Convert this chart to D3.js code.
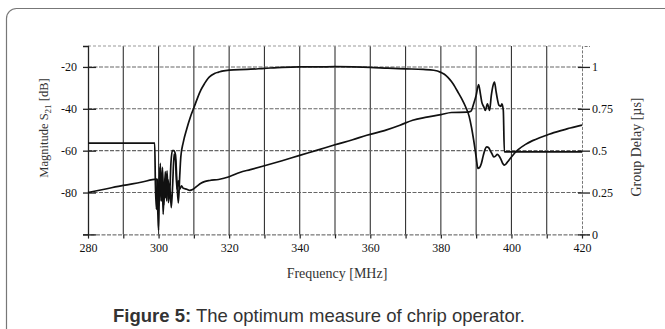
<!DOCTYPE html>
<html>
<head>
<meta charset="utf-8">
<script src="https://cdn.jsdelivr.net/npm/d3@7/dist/d3.min.js"></script>
<style>
  html, body { margin: 0; padding: 0; background: #fff; }
  svg { display: block; }
  .tick text { font-family: "Liberation Serif", "DejaVu Serif", serif; font-size: 12px; fill: #111; }
  .axis-title { font-family: "Liberation Serif", "DejaVu Serif", serif; fill: #333; }
  .caption { font-family: "Liberation Sans", Arial, sans-serif; font-size: 18.5px; fill: #333; }
</style>
</head>
<body>
<div id="chart"></div>
<script>
// Frequency axis (MHz)
const freqTicks = [280, 290, 300, 310, 320, 330, 340, 350, 360, 370, 380, 390, 400, 410, 420];
const magTicks = [-100, -80, -60, -40, -20];
const delayTicks = [0, 0.25, 0.5, 0.75, 1];

// Magnitude S21 [dB]
const magFreq = [280, 285, 290, 295, 299.5, 299.8, 300.0, 300.2, 300.5, 300.8, 301.1, 301.5, 301.9, 302.3, 302.7, 303.1, 303.5, 303.9, 304.3, 304.8, 305.2, 305.6, 306.0, 306.3, 307, 308, 309, 310, 311, 312, 313, 314, 315, 316, 317, 318, 320, 325, 330, 335, 340, 345, 350, 355, 360, 365, 370, 375, 378, 380, 381, 382, 383, 384, 385, 386, 387, 388, 388.7, 389.3, 390, 390.5, 391, 391.5, 392, 392.5, 393, 393.5, 394, 394.5, 395, 395.5, 396, 396.5, 397, 397.5, 398, 398.5, 399, 400, 401, 402, 404, 406, 408, 410, 412, 414, 416, 418, 420];
const magDb = [-80, -78.3, -76.6, -75.1, -73.6, -90, -98, -80, -66, -84, -68, -86, -70, -84, -74, -82, -66, -60, -60, -62, -75, -85, -72, -63, -56, -49.5, -44, -39.5, -35, -31, -28, -25.5, -24, -23, -22.5, -22, -21.5, -21.2, -20.7, -20.2, -20, -20, -19.9, -20, -20.2, -20.6, -20.9, -21.2, -21.6, -22.6, -23.5, -25, -27, -29.5, -32.5, -35.5, -39, -43.5, -49, -55, -63, -68.5, -68, -66, -62.5, -59.5, -58.2, -58.5, -60, -61.5, -63, -62.6, -61.8, -62.5, -64, -66, -66.9, -66.3, -65.2, -63, -61, -59.4, -57, -55.2, -53.8, -52.6, -51.4, -50.4, -49.5, -48.6, -47.8];

// Group delay [µs]
const delayFreq = [280, 298.9, 299.1, 299.4, 299.7, 300.1, 300.4, 300.7, 301.0, 301.3, 301.7, 302.0, 302.4, 302.8, 303.2, 303.6, 304.0, 304.4, 304.8, 305.2, 305.6, 306.0, 306.5, 307, 308, 308.8, 309.8, 311, 312, 313, 314.5, 317, 320, 323, 326, 330, 335, 340, 345, 350, 355, 359, 364, 368.4, 372, 376, 380, 383, 387.5, 388.5, 389.3, 390, 390.7, 391.2, 391.6, 392.2, 392.6, 393.2, 393.8, 394.3, 394.8, 395.2, 395.6, 396.0, 396.5, 397.0, 397.3, 397.7, 398.0, 420];
const delayUs = [0.545, 0.545, 0.30, 0.15, 0.33, 0.17, 0.40, 0.20, 0.36, 0.12, 0.33, 0.22, 0.38, 0.19, 0.28, 0.16, 0.30, 0.48, 0.44, 0.27, 0.32, 0.27, 0.29, 0.275, 0.27, 0.263, 0.27, 0.29, 0.305, 0.315, 0.322, 0.328, 0.344, 0.37, 0.387, 0.41, 0.44, 0.472, 0.503, 0.535, 0.565, 0.592, 0.62, 0.652, 0.682, 0.70, 0.715, 0.728, 0.73, 0.735, 0.78, 0.83, 0.895, 0.84, 0.79, 0.76, 0.74, 0.78, 0.74, 0.83, 0.89, 0.91, 0.86, 0.81, 0.77, 0.765, 0.78, 0.74, 0.493, 0.493];

const W = 665, H = 329;
const margin = { top: 46, left: 88 };
const width = 494, height = 188.4;

const svg = d3.select('#chart').append('svg').attr('width', W).attr('height', H);

// page panel with rounded corner
svg.append('rect')
  .attr('x', 6.5).attr('y', 8.5).attr('width', 700).attr('height', 360)
  .attr('rx', 10).attr('fill', 'none').attr('stroke', '#777').attr('stroke-width', 1.2);

const g = svg.append('g').attr('transform', `translate(${margin.left},${margin.top})`);

const x = d3.scaleLinear().domain([280, 420]).range([0, width]);
const yMag = d3.scaleLinear().domain([-100, -10]).range([height, 0]);
const yDelay = d3.scaleLinear().domain([0, 1.125]).range([height, 0]);

// grid
g.append('g').selectAll('line')
  .data(freqTicks.slice(1, -1))
  .join('line')
  .attr('x1', d => x(d)).attr('x2', d => x(d))
  .attr('y1', 0).attr('y2', height)
  .attr('stroke', '#333').attr('stroke-width', 1.1);

g.append('g').selectAll('line')
  .data(magTicks.slice(1))
  .join('line')
  .attr('x1', 0).attr('x2', width)
  .attr('y1', d => yMag(d)).attr('y2', d => yMag(d))
  .attr('stroke', '#666').attr('stroke-width', 1.1).attr('stroke-dasharray', '4,1.5');

// top frame
g.append('line').attr('x1', 0).attr('x2', width).attr('y1', 0).attr('y2', 0)
  .attr('stroke', '#999').attr('stroke-dasharray', '3,2');

// axes
const fmt = d => (d < 0 ? '-' + Math.abs(d) : String(d));

g.append('g')
  .attr('transform', `translate(0,${height})`)
  .call(d3.axisBottom(x).tickValues(freqTicks).tickSize(4).tickPadding(5)
    .tickFormat(d => (d % 20 === 0 ? d : '')))
  .call(a => a.select('.domain').attr('stroke', '#555').attr('stroke-dasharray', '4,1.5'))
  .call(a => a.selectAll('.tick line').attr('stroke', '#222').attr('stroke-width', 1.2));

g.append('g')
  .call(d3.axisLeft(yMag).tickValues(magTicks).tickSize(5).tickPadding(6)
    .tickFormat(d => (d === -100 ? '' : fmt(d))))
  .call(a => a.select('.domain').attr('stroke', '#222').attr('stroke-width', 1.3))
  .call(a => a.selectAll('.tick line').attr('x1', 8).attr('stroke', '#222').attr('stroke-width', 1.3));

g.append('g')
  .attr('transform', `translate(${width},0)`)
  .call(d3.axisRight(yDelay).tickValues(delayTicks).tickSize(8).tickPadding(2)
    .tickFormat(d => String(d)))
  .call(a => a.select('.domain').attr('stroke', '#777').attr('stroke-dasharray', '3,1.5'))
  .call(a => a.selectAll('.tick line').attr('x1', -4).attr('stroke', '#222').attr('stroke-width', 1.3));

// curves
const magLine = d3.line()
  .x((d, i) => x(magFreq[i]))
  .y(d => yMag(d))
  .curve(d3.curveMonotoneX);

const delayLine = d3.line()
  .x((d, i) => x(delayFreq[i]))
  .y(d => yDelay(d))
  .curve(d3.curveMonotoneX);

g.append('path').datum(delayUs)
  .attr('d', delayLine)
  .attr('fill', 'none').attr('stroke', '#111').attr('stroke-width', 1.7);

g.append('path').datum(magDb)
  .attr('d', magLine)
  .attr('fill', 'none').attr('stroke', '#111').attr('stroke-width', 1.7);

// axis titles
const leftTitle = svg.append('text')
  .attr('class', 'axis-title')
  .attr('transform', `translate(48,128) rotate(-90)`)
  .attr('text-anchor', 'middle')
  .style('font-size', '12.5px');
leftTitle.append('tspan').text('Magnitude S');
leftTitle.append('tspan').attr('dy', 3).style('font-size', '9px').text('21');
leftTitle.append('tspan').attr('dy', -3).text(' [dB]');

svg.append('text')
  .attr('class', 'axis-title')
  .attr('transform', `translate(641,147) rotate(-90)`)
  .attr('text-anchor', 'middle')
  .style('font-size', '14px')
  .text('Group Delay [µs]');

svg.append('text')
  .attr('class', 'axis-title')
  .attr('x', 337).attr('y', 278)
  .attr('text-anchor', 'middle')
  .style('font-size', '14px')
  .text('Frequency [MHz]');

// caption
const cap = svg.append('text').attr('class', 'caption').attr('x', 113).attr('y', 321.5);
cap.append('tspan').attr('font-weight', 'bold').text('Figure 5:');
cap.append('tspan').text(' The optimum measure of chrip operator.');
</script>
</body>
</html>
